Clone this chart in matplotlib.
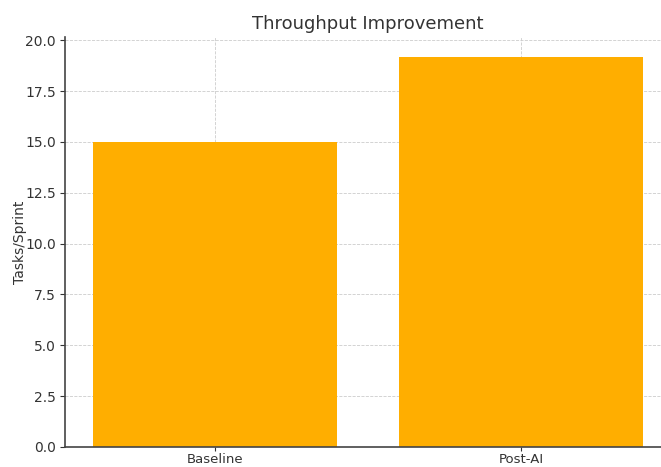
import matplotlib
matplotlib.use("Agg")
import matplotlib.pyplot as plt

# data
phases = ["Baseline", "Post-AI"]
tasks_per_sprint = [15.0, 19.2]

fig = plt.figure(figsize=(6.61, 4.67), dpi=100)
ax = fig.add_axes([65 / 661, 20 / 467, 606 / 661, 410 / 467])

ax.bar(phases, tasks_per_sprint, width=0.8, color="#FFAE00", zorder=2)

ax.set_title("Throughput Improvement", fontsize=13, color="#333333", pad=6)
ax.set_ylabel("Tasks/Sprint", fontsize=10, color="#333333")
ax.yaxis.set_label_coords(-0.063, 0.5)
ax.set_yticks([0, 2.5, 5, 7.5, 10, 12.5, 15, 17.5, 20])
ax.tick_params(axis="y", labelsize=10, colors="#333333", pad=3)
ax.tick_params(axis="x", labelsize=9.5, colors="#333333", pad=1.5, length=3)

ax.grid(True, linestyle="--", linewidth=0.6, color="#cccccc", zorder=0)
ax.spines["top"].set_visible(False)
ax.spines["right"].set_visible(False)
for s in ("left", "bottom"):
    ax.spines[s].set_color("#444444")
    ax.spines[s].set_linewidth(1.2)

fig.savefig("out.png", dpi=100)
